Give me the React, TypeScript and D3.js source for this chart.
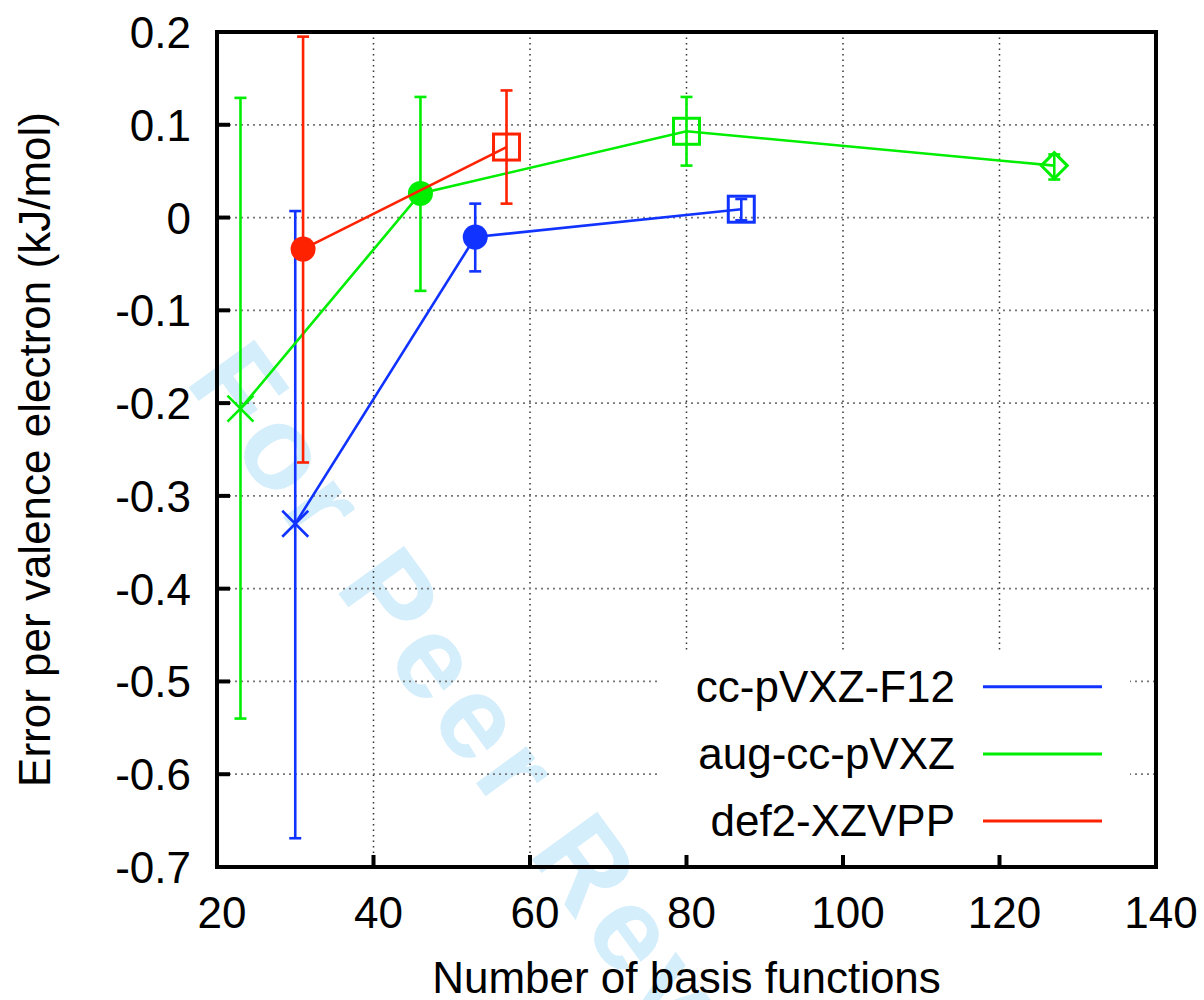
import React from "react";
import * as d3 from "d3";

const xTicks = [20, 40, 60, 80, 100, 120, 140];
const yTicks = [0.2, 0.1, 0, -0.1, -0.2, -0.3, -0.4, -0.5, -0.6, -0.7];

const seriesNames = ["cc-pVXZ-F12", "aug-cc-pVXZ", "def2-XZVPP"];
const seriesColors = ["#1133ff", "#00ee00", "#ff2200"];

const f12X = [30, 53, 87];
const f12Y = [-0.33, -0.021, 0.009];
const f12Lo = [-0.669, -0.058, -0.003];
const f12Hi = [0.007, 0.015, 0.02];
const f12Shapes = ["x", "circle", "square"];

const augX = [23, 46, 80, 127];
const augY = [-0.206, 0.026, 0.093, 0.056];
const augLo = [-0.54, -0.079, 0.056, 0.041];
const augHi = [0.129, 0.13, 0.13, 0.068];
const augShapes = ["x", "circle", "square", "diamond"];

const defX = [31, 57];
const defY = [-0.034, 0.076];
const defLo = [-0.264, 0.015];
const defHi = [0.195, 0.137];
const defShapes = ["circle", "square"];

const FONT = "'Liberation Sans', Arial, Helvetica, sans-serif";

export default function App() {
  const W = 1204, H = 1000;
  const L = 217, R = 1156, T = 32, B = 867;
  const x = d3.scaleLinear().domain([20, 140]).range([L, R]);
  const y = d3.scaleLinear().domain([-0.7, 0.2]).range([B, T]);

  const series = [
    { xs: f12X, ys: f12Y, lo: f12Lo, hi: f12Hi, shapes: f12Shapes },
    { xs: augX, ys: augY, lo: augLo, hi: augHi, shapes: augShapes },
    { xs: defX, ys: defY, lo: defLo, hi: defHi, shapes: defShapes },
  ];

  const line = d3
    .line<[number, number]>()
    .x((d) => x(d[0]))
    .y((d) => y(d[1]));

  const marker = (shape: string, cx: number, cy: number, color: string, key: string) => {
    const s = 13;
    if (shape === "x")
      return (
        <path key={key} d={`M${cx - s},${cy - s}L${cx + s},${cy + s}M${cx - s},${cy + s}L${cx + s},${cy - s}`} stroke={color} strokeWidth={2.6} fill="none" />
      );
    if (shape === "circle") return <circle key={key} cx={cx} cy={cy} r={12.5} fill={color} />;
    if (shape === "square")
      return <rect key={key} x={cx - 13} y={cy - 13} width={26} height={26} fill="none" stroke={color} strokeWidth={3} />;
    return (
      <path key={key} d={`M${cx},${cy - s}L${cx + s},${cy}L${cx},${cy + s}L${cx - s},${cy}Z`} fill="none" stroke={color} strokeWidth={3} />
    );
  };

  const fmt = (v: number) => (Math.abs(v) < 1e-9 ? "0" : v.toFixed(1));

  const legendRows = [686.7, 754, 821];

  return (
    <svg width={W} height={H} style={{ position: "absolute", left: 0, top: 0, background: "#fff" }} fontFamily={FONT}>
      <rect x={0} y={0} width={W} height={H} fill="#fff" />
      {/* watermark */}
      <text
        x={0}
        y={0}
        transform="translate(184,381) rotate(54)"
        fontSize={118}
        fontWeight="bold"
        letterSpacing={8}
        fill="#d4eefb"
      >
        For Peer Review
      </text>

      {/* grid */}
      {xTicks.map((t) => (
        <line key={"gx" + t} x1={x(t)} x2={x(t)} y1={T} y2={B} stroke="#333" strokeWidth={1.5} strokeDasharray="1.5,4" />
      ))}
      {yTicks.map((t) => (
        <line key={"gy" + t} x1={L} x2={R} y1={y(t)} y2={y(t)} stroke="#777" strokeWidth={1.8} strokeDasharray="2,4" />
      ))}
      {/* legend background hides grid */}
      <rect x={658} y={652} width={472} height={213} fill="#fff" />

      {/* data */}
      {series.map((s, si) => {
        const c = seriesColors[si];
        const pts = s.xs.map((v, i) => [v, s.ys[i]] as [number, number]);
        return (
          <g key={"s" + si}>
            {s.xs.map((v, i) => (
              <g key={"e" + i} stroke={c} strokeWidth={2.6}>
                <line x1={x(v)} x2={x(v)} y1={y(s.lo[i])} y2={y(s.hi[i])} />
                <line x1={x(v) - 6} x2={x(v) + 6} y1={y(s.lo[i])} y2={y(s.lo[i])} />
                <line x1={x(v) - 6} x2={x(v) + 6} y1={y(s.hi[i])} y2={y(s.hi[i])} />
              </g>
            ))}
            <path d={line(pts) || ""} fill="none" stroke={c} strokeWidth={2.6} />
            {s.xs.map((v, i) => marker(s.shapes[i], x(v), y(s.ys[i]), c, "m" + i))}
          </g>
        );
      })}

      {/* frame */}
      <rect x={L} y={T} width={R - L} height={B - T} fill="none" stroke="#000" strokeWidth={4} />
      {yTicks.map((t) => (
        <line key={"ty" + t} x1={L} x2={L + 13} y1={y(t)} y2={y(t)} stroke="#000" strokeWidth={4} />
      ))}
      {xTicks.map((t) => (
        <line key={"tx" + t} x1={x(t)} x2={x(t)} y1={B} y2={B - 12} stroke="#000" strokeWidth={4} />
      ))}

      {/* tick labels */}
      {yTicks.map((t) => (
        <text key={"ly" + t} x={191} y={y(t) + 16} fontSize={44} textAnchor="end" fill="#000">
          {fmt(t)}
        </text>
      ))}
      {xTicks.map((t) => (
        <text key={"lx" + t} x={x(t) + 5} y={928} fontSize={44} textAnchor="middle" fill="#000">
          {t}
        </text>
      ))}

      {/* axis titles */}
      <text x={(L + R) / 2} y={993} fontSize={44} textAnchor="middle" fill="#000">
        Number of basis functions
      </text>
      <text transform={`translate(50,${(T + B) / 2}) rotate(-90)`} fontSize={44} textAnchor="middle" fill="#000">
        Error per valence electron (kJ/mol)
      </text>

      {/* legend */}
      {seriesNames.map((n, i) => (
        <g key={"lg" + i}>
          <text x={955} y={legendRows[i] + 15} fontSize={44} textAnchor="end" fill="#000">
            {n}
          </text>
          <line x1={983} x2={1102} y1={legendRows[i]} y2={legendRows[i]} stroke={seriesColors[i]} strokeWidth={3} />
        </g>
      ))}
    </svg>
  );
}
